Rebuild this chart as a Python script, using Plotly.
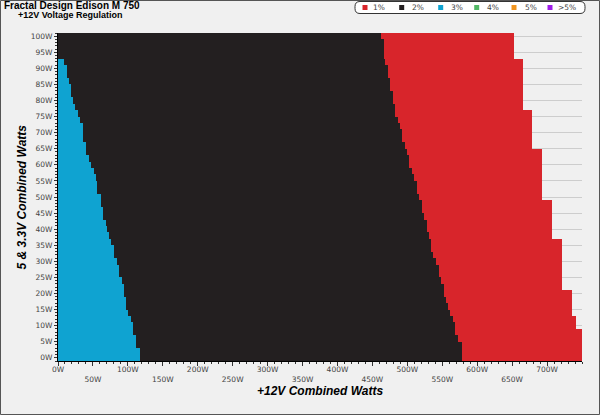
import plotly.graph_objects as go

# ---------------- data ----------------
# 5 & 3.3V combined load rows (W)
rows = [0, 2, 4, 6, 8, 10, 12, 14, 16, 18, 20, 22, 24, 26, 28, 30, 32, 34, 36, 38,
        40, 42, 44, 46, 48, 50, 52, 54, 56, 58, 60, 62, 64, 66, 68, 70, 72, 74, 76, 78,
        80, 82, 84, 86, 88, 90, 92, 94, 96, 98, 100]
# +12V load where the 3% zone ends (W)
blue_end = [117, 117, 111, 111, 107, 107, 104, 100, 97, 97, 94, 94, 91, 87, 87, 84, 80, 80, 76, 73,
            70.5, 68, 65, 65, 61, 61, 56, 56, 54, 51, 47, 44, 40, 40, 36, 36, 36, 32, 28, 25,
            21, 19, 19, 16, 13, 13, 8, 0, 0, 0, 0]
# +12V load where the 2% zone ends (W)
black_end = [578, 578, 578, 572, 568.5, 568.5, 565, 561, 558, 555, 552, 552, 548, 545, 545, 541, 537, 534, 534, 531,
             528, 528, 524, 521, 521, 517, 514, 514, 510, 506.5, 503, 503, 499, 496, 493, 493, 490, 486, 482.5, 482.5,
             479, 479, 475, 475, 472, 472, 468.5, 466, 466, 466, 462]
# +12V load where the 1% zone (and the test) ends (W)
red_end = [750, 750, 750, 750, 750, 742, 742, 735, 735, 735, 735, 721, 721, 721, 721, 721, 721, 721, 721, 707.5,
           707.5, 707.5, 707.5, 707.5, 707.5, 693, 693, 693, 693, 693, 693, 693, 693, 679, 679, 679, 679, 679, 679, 665,
           665, 665, 665, 665, 665, 665, 665, 652, 652, 652, 652]

legend_labels = ["1%", "2%", "3%", "4%", "5%", ">5%"]
x_tick_vals = [0, 50, 100, 150, 200, 250, 300, 350, 400, 450, 500, 550, 600, 650, 700]
y_tick_vals = [0, 5, 10, 15, 20, 25, 30, 35, 40, 45, 50, 55, 60, 65, 70, 75, 80, 85, 90, 95, 100]

# ---------------- style ----------------
RED = "#d8252b"
BLACK = "#231f20"
BLUE = "#0fa3d1"
GREEN = "#52b866"
ORANGE = "#f0941e"
PURPLE = "#9f1de8"
legend_colors = [RED, BLACK, BLUE, GREEN, ORANGE, PURPLE]
BG = "#f0f0f0"
TICKFONT = dict(family="DejaVu Sans", size=7.5, color="#444444")

W, H = 600, 415
L, R, T, B = 58, 582, 33, 361


def pxx(x):
    return (x - L) / (R - L)


def pxy(y):
    return (B - y) / (B - T)


fig = go.Figure()
black_len = [k - b for k, b in zip(black_end, blue_end)]
red_len = [r - k for r, k in zip(red_end, black_end)]

for vals, base, col, nm in [(blue_end, [0] * len(rows), BLUE, "3%"),
                            (black_len, blue_end, BLACK, "2%"),
                            (red_len, black_end, RED, "1%")]:
    fig.add_trace(go.Bar(y=rows, x=vals, base=base, orientation="h", width=2,
                         marker=dict(color=col, line=dict(width=0)),
                         name=nm, showlegend=False, hoverinfo="skip"))

x_tick_text = [("%dW" % v) if i % 2 == 0 else ("<br>%dW" % v) for i, v in enumerate(x_tick_vals)]
y_tick_text = ["%dW" % v for v in y_tick_vals]

shapes = []
annotations = []

# outer frame
shapes.append(dict(type="rect", xref="paper", yref="paper",
                   x0=pxx(0.5), x1=pxx(599.5), y0=pxy(414.5), y1=pxy(0.5),
                   line=dict(color="#555555", width=1), fillcolor="rgba(0,0,0,0)", layer="above"))

# legend box (rounded)
lx0, lx1, ly0, ly1, rr = 355, 585, 1.5, 13.5, 5
path = ("M {a},{b} L {c},{b} Q {d},{b} {d},{e} L {d},{f} Q {d},{g} {c},{g} "
        "L {a},{g} Q {h},{g} {h},{f} L {h},{e} Q {h},{b} {a},{b} Z").format(
    a=pxx(lx0 + rr), b=pxy(ly0), c=pxx(lx1 - rr), d=pxx(lx1), e=pxy(ly0 + rr),
    f=pxy(ly1 - rr), g=pxy(ly1), h=pxx(lx0))
shapes.append(dict(type="path", xref="paper", yref="paper", path=path,
                   line=dict(color="#333333", width=1), fillcolor="#ffffff", layer="above"))

sq_x = [365, 401.7, 440.7, 476.7, 514, 550]
txt_x = [379.3, 418, 456.7, 493.3, 530.7, 566.7]
ly = 7.5
for lab, col, sx, tx in zip(legend_labels, legend_colors, sq_x, txt_x):
    shapes.append(dict(type="rect", xref="paper", yref="paper",
                       x0=pxx(sx - 2.5), x1=pxx(sx + 2.5), y0=pxy(ly + 2.5), y1=pxy(ly - 2.5),
                       line=dict(width=0), fillcolor=col, layer="above"))
    annotations.append(dict(text=lab, xref="paper", yref="paper", x=pxx(tx), y=pxy(ly),
                            xanchor="center", yanchor="middle", showarrow=False,
                            font=dict(family="DejaVu Sans", size=7.5, color="#444444")))

# titles
annotations.append(dict(text="<b>Fractal Design Edison M 750</b>", xref="paper", yref="paper",
                        x=pxx(2), y=pxy(5.5), xanchor="left", yanchor="middle", showarrow=False,
                        font=dict(family="Liberation Sans", size=10, color="#000000")))
annotations.append(dict(text="<b>+12V Voltage Regulation</b>", xref="paper", yref="paper",
                        x=pxx(15.5), y=pxy(15), xanchor="left", yanchor="middle", showarrow=False,
                        font=dict(family="Liberation Sans", size=9, color="#000000")))
annotations.append(dict(text="<b><i>+12V Combined Watts</i></b>", xref="paper", yref="paper",
                        x=0.5, y=pxy(391), xanchor="center", yanchor="middle", showarrow=False,
                        font=dict(family="Liberation Sans", size=12, color="#000000")))
annotations.append(dict(text="<b><i>5 &amp; 3.3V Combined Watts</i></b>", xref="paper", yref="paper",
                        x=pxx(21.5), y=0.5, xanchor="center", yanchor="middle", showarrow=False,
                        textangle=-90,
                        font=dict(family="Liberation Sans", size=12, color="#000000")))

fig.update_layout(
    width=W, height=H,
    margin=dict(l=L, r=W - R, t=T, b=H - B, pad=0),
    paper_bgcolor=BG, plot_bgcolor=BG,
    barmode="overlay", bargap=0,
    showlegend=False,
    shapes=shapes, annotations=annotations,
    xaxis=dict(range=[0, 750], tickmode="array", tickvals=x_tick_vals, ticktext=x_tick_text,
               ticks="outside", ticklen=4, tickcolor="#333333", tickfont=TICKFONT,
               ticklabelstandoff=-3,
               showline=True, linecolor="#000000", linewidth=1, showgrid=False, zeroline=False,
               minor=dict(tick0=0, dtick=10, ticks="outside", ticklen=2, tickcolor="#333333",
                          showgrid=False)),
    yaxis=dict(range=[-1, 101], tickmode="array", tickvals=y_tick_vals, ticktext=y_tick_text,
               ticks="outside", ticklen=3, tickcolor="#333333", tickfont=TICKFONT,
               showline=True, linecolor="#000000", linewidth=1, showgrid=True,
               gridcolor="#cdcdcd", gridwidth=1, zeroline=False,
               minor=dict(tick0=0, dtick=1, ticks="outside", ticklen=2, tickcolor="#333333",
                          showgrid=False)),
)

fig.write_html("out.html", config={"displayModeBar": False, "staticPlot": True},
               post_script="document.body.style.margin='0px';")
